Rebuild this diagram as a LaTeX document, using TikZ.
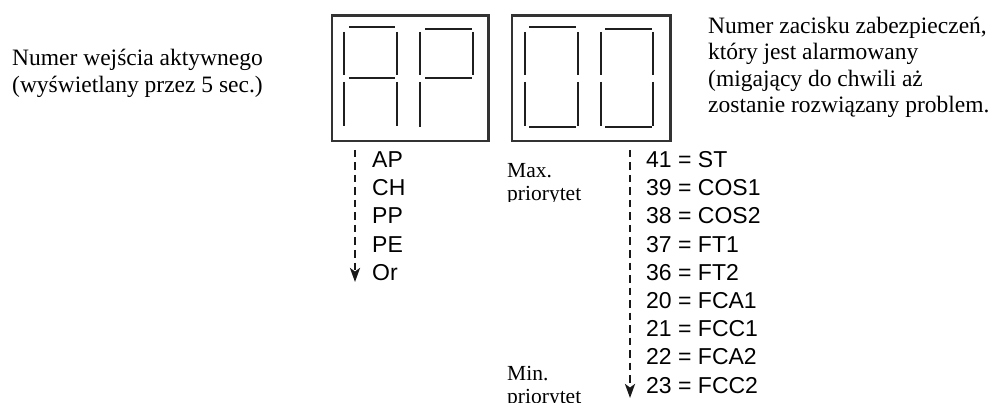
\documentclass[tikz,border=0pt]{standalone}
\usepackage{fontspec}
\setmainfont{Liberation Serif}
\newfontfamily\listfont{Liberation Sans}
\usetikzlibrary{arrows.meta}

\tikzset{
  panel/.style={draw=black!80, line width=2.5pt, fill=none},
  seg/.style={draw=black!88, line width=2.2pt},
  flow/.style={draw=black!90, line width=2.4pt, dash pattern=on 7.5pt off 5pt,
               -{Stealth[length=14pt,width=10pt,inset=3.5pt]}},
  item/.style={anchor=base west, inner sep=0pt, font=\listfont\fontsize{23}{25}\selectfont},
  % multi-line texts are placed by the baseline of their last line
  note/.style={anchor=base west, inner sep=0pt, align=left,
               font=\fontsize{23.5}{26.5}\selectfont},
  note2/.style={anchor=base west, inner sep=0pt, align=left,
               font=\fontsize{23.5}{27}\selectfont},
  prio/.style={anchor=base west, inner sep=0pt, align=left,
               font=\fontsize{21.5}{23}\selectfont}
}

\begin{document}
\begin{tikzpicture}[x=1pt, y=-1pt]
  \useasboundingbox (0,0) rectangle (995,403);

  % display panels
  \node[panel, minimum width=156.5pt, minimum height=125.5pt, inner sep=0pt] (left) at (410,78.2) {};
  \node[panel, minimum width=158.5pt, minimum height=125.5pt, inner sep=0pt] (right) at (591,78.2) {};

  % digit "A"
  \draw[seg] (349,27) -- (395,27);
  \draw[seg] (344,32) -- (344,75);
  \draw[seg] (397,32) -- (397,75);
  \draw[seg] (349,78) -- (395,78);
  \draw[seg] (344,82) -- (344,126);
  \draw[seg] (397,82) -- (397,126);
  % digit "P"
  \draw[seg] (425,29) -- (472,29);
  \draw[seg] (420,32) -- (420,75);
  \draw[seg] (473,32) -- (473,75);
  \draw[seg] (425,78) -- (472,78);
  \draw[seg] (420,82) -- (420,127);
  % digit "0"
  \draw[seg] (529,27) -- (576,27);
  \draw[seg] (525,32) -- (525,75);
  \draw[seg] (578,32) -- (578,75);
  \draw[seg] (525,82) -- (525,126);
  \draw[seg] (578,82) -- (578,126);
  \draw[seg] (529,127) -- (576,127);
  % digit "0"
  \draw[seg] (605,29) -- (652,29);
  \draw[seg] (601,32) -- (601,75);
  \draw[seg] (653,32) -- (653,75);
  \draw[seg] (601,82) -- (601,126);
  \draw[seg] (653,82) -- (653,126);
  \draw[seg] (605,127) -- (652,127);

  % descriptions
  \node[note2] (lnote) at (12,93) {Numer wejścia aktywnego\\(wyświetlany przez 5 sec.)};
  \node[note] (rnote) at (708,113) {Numer zacisku zabezpieczeń,\\który jest alarmowany\\(migający do chwili aż\\zostanie rozwiązany problem.};

  % input order
  \coordinate (a1) at (355,150);
  \coordinate (a2) at (355,282);
  \draw[flow] (a1) -- (a2);
  \node[item] (ap) at (372,167.5) {AP};
  \node[item] (ch) at (372,195.7) {CH};
  \node[item] (pp) at (372,223.9) {PP};
  \node[item] (pe) at (372,252.1) {PE};
  \node[item] (or) at (372,280.3) {Or};

  % alarm priority order
  \coordinate (b1) at (630,150);
  \coordinate (b2) at (630,398);
  \draw[flow] (b1) -- (b2);
  \node[item] (t41) at (646,167.5) {41 = ST};
  \node[item] (t39) at (646,195.7) {39 = COS1};
  \node[item] (t38) at (646,223.9) {38 = COS2};
  \node[item] (t37) at (646,252.1) {37 = FT1};
  \node[item] (t36) at (646,280.3) {36 = FT2};
  \node[item] (t20) at (646,308.5) {20 = FCA1};
  \node[item] (t21) at (646,336.7) {21 = FCC1};
  \node[item] (t22) at (646,364.9) {22 = FCA2};
  \node[item] (t23) at (646,393.1) {23 = FCC2};

  % priority labels (text frames cut the last line)
  \begin{scope}
    \clip (500,150) rectangle (600,202);
    \node[prio] (pmax) at (507,201) {Max.\\priorytet};
  \end{scope}
  \node[prio] (pmin) at (507,403) {Min.\\priorytet};
\end{tikzpicture}
\end{document}
